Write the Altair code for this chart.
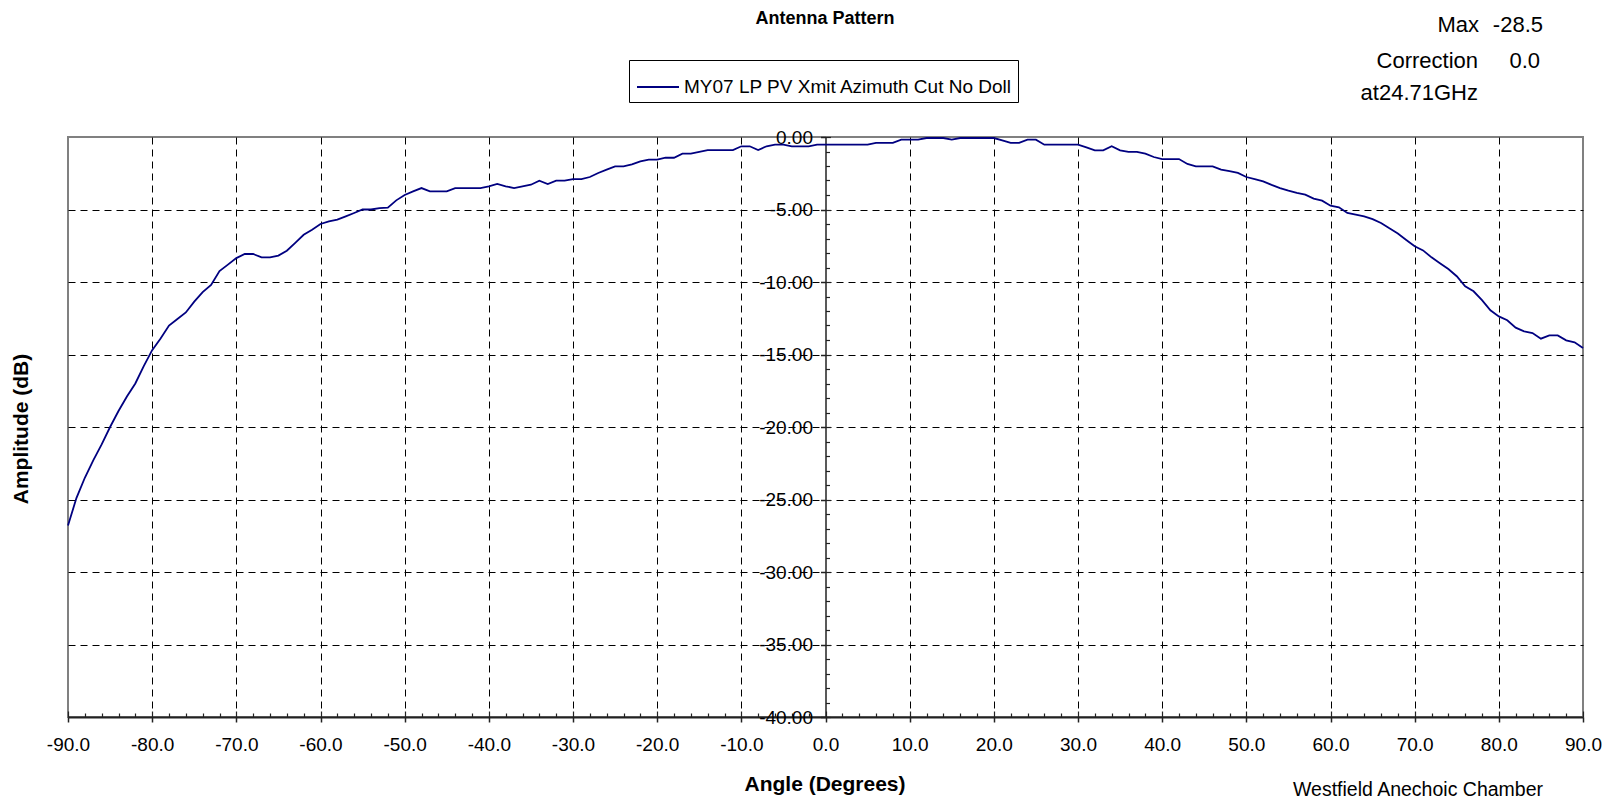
import altair as alt
import pandas as pd

# ---------------- data ----------------
angles = list(range(-90, 91))
amplitude = [
    -26.8, -24.9, -23.5, -22.3, -21.2, -20.0, -18.9, -17.9, -17.0, -15.8,
    -14.7, -13.9, -13.0, -12.55, -12.1, -11.35, -10.7, -10.2, -9.25, -8.8,
    -8.35, -8.07, -8.07, -8.3, -8.3, -8.18, -7.84, -7.3, -6.74, -6.39,
    -6.0, -5.82, -5.7, -5.47, -5.24, -5.0, -5.0, -4.9, -4.87, -4.37,
    -4.0, -3.75, -3.52, -3.75, -3.75, -3.75, -3.52, -3.52, -3.52, -3.52,
    -3.4, -3.24, -3.4, -3.52, -3.4, -3.29, -3.01, -3.24, -3.01, -3.01,
    -2.9, -2.9, -2.76, -2.48, -2.25, -2.02, -2.02, -1.89, -1.68, -1.56,
    -1.56, -1.43, -1.43, -1.15, -1.15, -1.03, -0.9, -0.9, -0.9, -0.9,
    -0.64, -0.64, -0.9, -0.64, -0.53, -0.53, -0.64, -0.64, -0.64, -0.53,
    -0.53, -0.53, -0.53, -0.53, -0.53, -0.53, -0.41, -0.41, -0.41, -0.18,
    -0.18, -0.18, -0.07, -0.07, -0.07, -0.18, -0.07, -0.07, -0.07, -0.07,
    -0.07, -0.23, -0.41, -0.41, -0.18, -0.18, -0.53, -0.53, -0.53, -0.53,
    -0.53, -0.71, -0.92, -0.92, -0.64, -0.92, -1.03, -1.03, -1.15, -1.38,
    -1.52, -1.52, -1.52, -1.86, -2.02, -2.02, -2.02, -2.25, -2.35, -2.48,
    -2.76, -2.9, -3.06, -3.3, -3.52, -3.7, -3.85, -3.98, -4.25, -4.39,
    -4.74, -4.85, -5.24, -5.35, -5.47, -5.66, -5.93, -6.3, -6.65, -7.1,
    -7.54, -7.82, -8.3, -8.7, -9.1, -9.6, -10.3, -10.64, -11.25, -11.95,
    -12.37, -12.64, -13.15, -13.4, -13.52, -13.91, -13.68, -13.68, -14.02, -14.16,
    -14.55,
]
series_name = "MY07 LP PV Xmit Azimuth Cut No Doll"
x_major = list(range(-90, 91, 10))
x_minor = list(range(-90, 91, 2))
y_major = list(range(-40, 1, 5))
y_minor = list(range(-40, 1, 1))

chart_title = "Antenna Pattern"
x_title = "Angle (Degrees)"
y_title = "Amplitude (dB)"
info_labels = ["Max", "Correction", "at24.71GHz"]
info_values = ["-28.5", "0.0", ""]
footer = "Westfield Anechoic Chamber"

df = pd.DataFrame({"angle": angles, "amp": amplitude, "series": series_name})

# ---------------- layout ----------------
W, H = 1515, 580
FONT = "Liberation Sans"
NAVY = "#000080"
MINUS = "\u2212"

xscale = alt.Scale(domain=[-90, 90], nice=False, zero=False)
yscale = alt.Scale(domain=[-40, 0], nice=False, zero=False)

line = alt.Chart(df).mark_line(strokeWidth=1.8).encode(
    x=alt.X("angle:Q", scale=xscale, axis=alt.Axis(
        orient="bottom", values=x_major, title=None,
        labelExpr=f"replace(format(datum.value, '.1f'), '{MINUS}', '-')",
        grid=True, gridDash=[7, 5], gridColor="#000", gridWidth=1,
        gridOpacity={"condition": {"test": "abs(datum.value) == 90 || datum.value == 0", "value": 0}, "value": 1},
        domainColor="#222", domainWidth=2, tickColor="#222", tickSize=5, tickWidth=1.5,
        labelFont=FONT, labelFontSize=19, labelColor="#000", labelPadding=13,
        labelFlush=False, labelOverlap=False)),
    y=alt.Y("amp:Q", scale=yscale, axis=alt.Axis(
        orient="left", offset=-W / 2, values=y_major, title=None,
        labelExpr=f"replace(format(datum.value, '.2f'), '{MINUS}', '-')",
        grid=True, gridDash=[7, 5], gridColor="#000", gridWidth=1,
        gridOpacity={"condition": {"test": "datum.value == 0 || datum.value == -40", "value": 0}, "value": 1},
        domainColor="#222", domainWidth=1.5, tickColor="#222", tickSize=5, tickWidth=1.5,
        labelFont=FONT, labelFontSize=19, labelColor="#000", labelPadding=8,
        labelFlush=False, labelOverlap=False)),
    color=alt.Color("series:N", scale=alt.Scale(range=[NAVY]), legend=alt.Legend(
        orient="none", legendX=561, legendY=-77, title=None,
        strokeColor="#000", fillColor="#fff", padding=5, cornerRadius=0,
        symbolType="stroke", symbolStrokeWidth=2, symbolSize=1764, symbolOffset=2,
        labelFont=FONT, labelFontSize=19, labelColor="#000", labelLimit=0, labelOffset=4)),
)

inner = alt.Chart(df).mark_line(opacity=0).encode(
    x=alt.X("angle:Q", scale=xscale, axis=alt.Axis(
        orient="top", offset=-H, values=x_minor, labels=False, title=None,
        grid=False, domain=False, tickColor="#222", tickWidth=1.2,
        tickSize={"condition": {"test": "datum.value % 10 == 0", "value": 6}, "value": 4})),
    y=alt.Y("amp:Q", scale=yscale, axis=alt.Axis(
        orient="right", offset=-W / 2, values=y_minor, labels=False, title=None,
        grid=False, domain=False, tickColor="#222", tickWidth=1.2,
        tickSize={"condition": {"test": "datum.value % 5 == 0", "value": 5}, "value": 4})),
)

one = pd.DataFrame({"a": [0]})


def label(text, x, y, size=18, bold=False, align="center", angle=0):
    kw = dict(text=text, font=FONT, fontSize=size, fontWeight="bold" if bold else "normal",
              align=align, baseline="middle", color="#000")
    if angle:
        kw["angle"] = angle
    return alt.Chart(one).mark_text(**kw).encode(x=alt.value(x), y=alt.value(y))


texts = [
    label(chart_title, 757, -118, size=18, bold=True),
    label(x_title, 757, 648, size=21, bold=True),
    label(y_title, -46, 292, size=21, bold=True, angle=270),
    label(info_labels[0], 1411, -112, size=22, align="right"),
    label(info_values[0], 1475, -112, size=22, align="right"),
    label(info_labels[1], 1410, -76, size=22, align="right"),
    label(info_values[1], 1472, -76, size=22, align="right"),
    label(info_labels[2], 1410, -44, size=22, align="right"),
    label(footer, 1475, 653, size=19.5, align="right"),
]

chart = alt.layer(line, inner, *texts).resolve_axis(
    x="independent", y="independent"
).properties(
    width=W, height=H,
    padding={"left": 60, "top": 129, "right": 26, "bottom": 84},
    autosize=alt.AutoSizeParams(type="none"),
).configure_view(stroke="#808080", strokeWidth=2)

chart.save("out.html", embed_options={"renderer": "svg", "actions": False})
